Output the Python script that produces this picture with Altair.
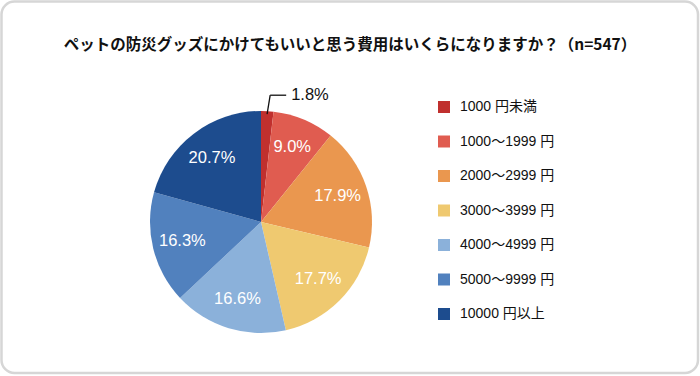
import math
import altair as alt
import pandas as pd

title_text = "ペットの防災グッズにかけてもいいと思う費用はいくらになりますか？（n=547）"
categories = ["1000 円未満", "1000～1999 円", "2000～2999 円", "3000～3999 円",
              "4000～4999 円", "5000～9999 円", "10000 円以上"]
values = [1.8, 9.0, 17.9, 17.7, 16.6, 16.3, 20.7]
colors = ["#C0302E", "#E05C50", "#EA974F", "#EFC970", "#8BB1DA", "#5181BE", "#1D4C8E"]

FONT = "'Liberation Sans', 'Noto Sans CJK JP', sans-serif"
CX, CY, R = 261, 222, 111

df = pd.DataFrame({
    "category": categories,
    "value": values,
    "idx": list(range(len(values))),
    "label": [f"{v:.1f}%" for v in values],
})
df["inlabel"] = [l if v >= 5 else "" for l, v in zip(df["label"], values)]

# leader for the small first slice, derived from its value
mid = math.radians(values[0] / 100 * 360 / 2)
sx, sy = CX + (R - 3) * math.sin(mid), CY - (R - 3) * math.cos(mid)
ex, ey = CX + (R + 16) * math.sin(mid) + 2, CY - (R + 16) * math.cos(mid)
hx = ex + 16

base = alt.Chart(df)

frame = alt.Chart(pd.DataFrame({"a": [0]})).mark_rect(
    fill="white", stroke="#d6d6d6", strokeWidth=2.5, cornerRadius=13
).encode(x=alt.value(1.5), x2=alt.value(698), y=alt.value(1.5), y2=alt.value(373))

title = alt.Chart(pd.DataFrame({"t": [title_text]})).mark_text(
    font="'Noto Sans CJK JP'", fontSize=15.5, fontWeight="bold", color="#111111",
    align="center", baseline="middle"
).encode(x=alt.value(350), y=alt.value(45), text="t:N")

pie = base.mark_arc(outerRadius=R, stroke=None).encode(
    theta=alt.Theta("value:Q", stack=True),
    order=alt.Order("idx:Q"),
    color=alt.Color(
        "category:N",
        sort=categories,
        scale=alt.Scale(domain=categories, range=colors),
        legend=alt.Legend(
            title=None, orient="none", legendX=437, legendY=100,
            symbolType="square", symbolSize=144, symbolStrokeWidth=0,
            symbolOpacity=1, labelFont=FONT, labelFontSize=14,
            labelColor="#111111", labelOffset=9, rowPadding=20.5,
            padding=0,
        ),
    ),
    x=alt.value(CX), y=alt.value(CY),
)

labels = base.mark_text(
    radius=81, font=FONT, fontSize=16.5, fontWeight=500, color="white",
    align="center", baseline="middle"
).encode(
    theta=alt.Theta("value:Q", stack=True),
    order=alt.Order("idx:Q"),
    text="inlabel:N",
    x=alt.value(CX), y=alt.value(CY),
)

one = alt.Chart(df.iloc[[0]])
lead1 = one.mark_rule(color="#111111", strokeWidth=1.3).encode(
    x=alt.value(sx), y=alt.value(sy), x2=alt.value(ex), y2=alt.value(ey))
lead2 = one.mark_rule(color="#111111", strokeWidth=1.3).encode(
    x=alt.value(ex), y=alt.value(ey), x2=alt.value(hx), y2=alt.value(ey))
small = one.mark_text(
    font=FONT, fontSize=16.5, fontWeight=500, color="#111111", align="left", baseline="middle"
).encode(x=alt.value(hx + 5), y=alt.value(ey), text="label:N")

chart = alt.layer(frame, title, pie, labels, lead1, lead2, small).properties(
    width=700, height=376, padding=0,
    autosize=alt.AutoSizeParams(type="none"),
    background="white",
).configure_view(stroke=None)

chart.save("out.html", embed_options={"renderer": "svg", "actions": False})
